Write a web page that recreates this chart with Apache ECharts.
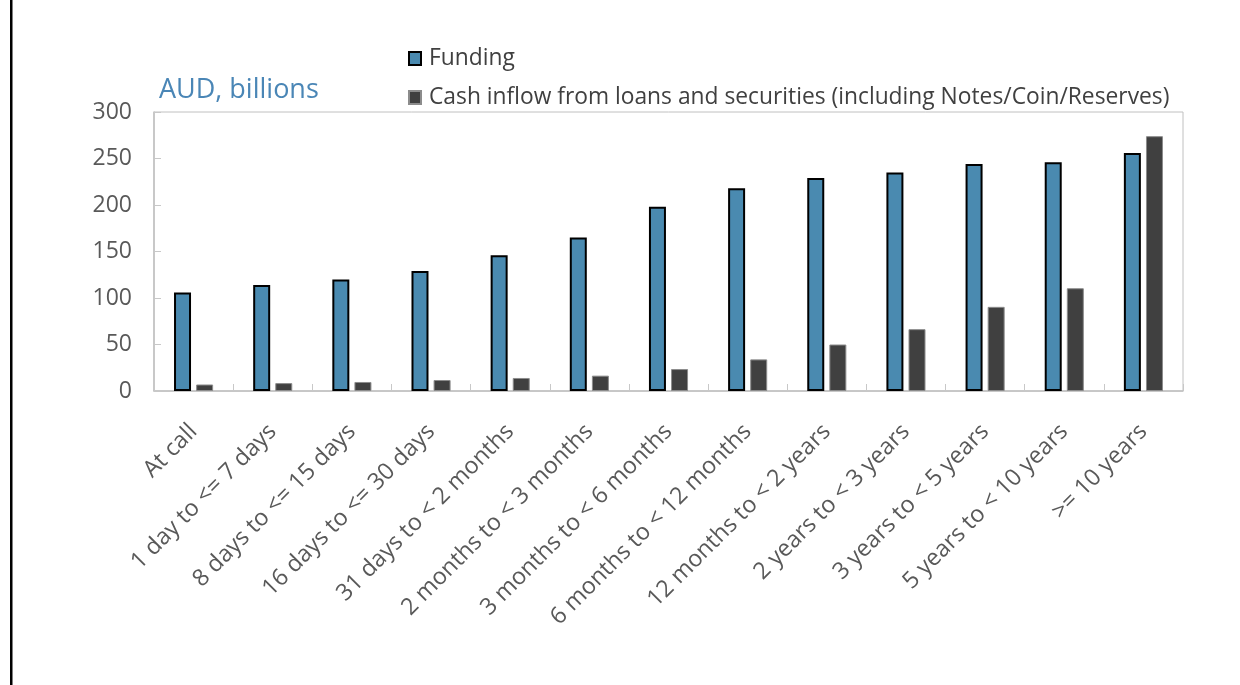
<!DOCTYPE html>
<html>
<head>
<meta charset="utf-8">
<script src="https://cdn.jsdelivr.net/npm/echarts@6/dist/echarts.min.js"></script>
<style>
html,body{margin:0;padding:0;background:#fff;}
#chart{width:1240px;height:685px;}
</style>
</head>
<body>
<div id="chart"></div>
<script>
var categories = ["At call","1 day to <= 7 days","8 days to <= 15 days","16 days to <= 30 days","31 days to < 2 months","2 months to < 3 months","3 months to < 6 months","6 months to < 12 months","12 months to < 2 years","2 years to < 3 years","3 years to < 5 years","5 years to < 10 years",">= 10 years"];
var funding = [106,114,120,129,146,165,198,218,229,235,244,246,256];
var cashInflow = [7,8.5,9.7,11.8,14,16.5,23.6,34,50,66.5,90.5,110.5,274];
var yTicks = {min:0,max:300,interval:50};

var chart = echarts.init(document.getElementById('chart'), null, {renderer:'canvas'});
var font = "'Open Sans', 'Noto Sans', sans-serif";
chart.setOption({
  animation:false,
  textStyle:{fontFamily:font},
  graphic:[
    {type:'rect', shape:{x:10,y:0,width:2.5,height:685}, style:{fill:'#000'}},
    {type:'text', left:159, top:77, style:{text:'AUD, billions', font:"27px 'Open Sans', sans-serif", fill:'#4a86b6'}}
  ],
  legend:{
    orient:'vertical', left:403, top:42,
    itemWidth:12, itemHeight:13, itemGap:16, icon:'rect',
    textStyle:{fontSize:22.8, lineHeight:23, color:'#404040', fontFamily:font, padding:[0,0,0,3]},
    data:['Funding','Cash inflow from loans and securities (including Notes/Coin/Reserves)']
  },
  grid:{left:154, right:57, top:112, bottom:294, show:true, borderColor:'#c0c0c0', borderWidth:1},
  xAxis:{
    type:'category', data:categories,
    axisLine:{lineStyle:{color:'#c0c0c0', width:1.5}},
    axisTick:{show:true, inside:true, length:7, interval:0, lineStyle:{color:'#c8c8c8'}},
    axisLabel:{interval:0, rotate:45, fontSize:23.3, color:'#595959', margin:37, fontFamily:font},
    splitLine:{show:false}
  },
  yAxis:{
    type:'value', min:yTicks.min, max:yTicks.max, interval:yTicks.interval,
    axisLine:{show:true, lineStyle:{color:'#c0c0c0', width:1.5}},
    axisTick:{show:true, inside:true, length:7, lineStyle:{color:'#c8c8c8'}},
    axisLabel:{fontSize:23, color:'#595959', margin:22, fontFamily:font},
    splitLine:{show:false}
  },
  series:[
    {name:'Funding', type:'bar', data:funding, barWidth:17, barGap:'30%',
     itemStyle:{color:'#4a8ab0', borderColor:'#000', borderWidth:2}},
    {name:'Cash inflow from loans and securities (including Notes/Coin/Reserves)', type:'bar', data:cashInflow, barWidth:17,
     itemStyle:{color:'#404040', borderColor:'#8c8c8c', borderWidth:1}}
  ]
});
</script>
</body>
</html>
